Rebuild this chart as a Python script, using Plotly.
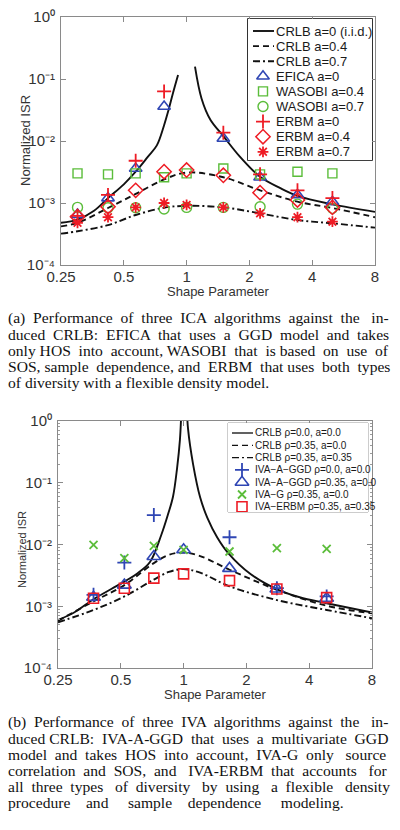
import plotly.graph_objects as go

FIG_W, FIG_H = 400, 830

# ---------------- (a) ICA data ----------------
shape_a = [0.3, 0.42, 0.57, 0.78, 1.0, 1.5, 2.25, 3.4, 5.0]
efica_a0 = [6.5e-4, 1.2e-3, 3.6e-3, 3.6e-2, None, 1.1e-2, 2.6e-3, 1.35e-3, 1.05e-3]
wasobi_a04 = [3.0e-3, 2.9e-3, 3.0e-3, 2.6e-3, 3.0e-3, 3.6e-3, 2.9e-3, 3.2e-3, 3.0e-3]
wasobi_a07 = [8.5e-4, 8.4e-4, 8.4e-4, 8.0e-4, 8.5e-4, 8.5e-4, 8.7e-4, 9.6e-4, 8.2e-4]
erbm_a0 = [6.2e-4, 1.35e-3, 4.8e-3, 6.3e-2, None, 1.36e-2, 2.9e-3, 1.6e-3, 1.2e-3]
erbm_a04 = [6.0e-4, 8.7e-4, 1.6e-3, 3.2e-3, 3.4e-3, 2.8e-3, 1.47e-3, 1.12e-3, 8.5e-4]
erbm_a07 = [4.8e-4, 5.9e-4, 8.5e-4, 1.0e-3, 9.3e-4, 8.5e-4, 6.8e-4, 5.9e-4, 5.0e-4]

crlb_a0_x = [0.25, 0.3, 0.36, 0.42, 0.5, 0.57, 0.65, 0.72, 0.78, 0.82, 0.86, 0.91,
             None, 1.097, 1.18, 1.3, 1.5, 1.8, 2.25, 2.8, 3.4, 5.0, 8.0]
crlb_a0_y = [4.8e-4, 5.4e-4, 7.5e-4, 1.2e-3, 2.0e-3, 3.2e-3, 5.5e-3, 8.5e-3, 1.8e-2, 3.2e-2, 5.9e-2, 1.16e-1,
             None, 1.58e-1, 4.8e-2, 2.2e-2, 1.2e-2, 5.6e-3, 2.65e-3, 1.75e-3, 1.3e-3, 9.5e-4, 7.2e-4]
crlb_a_x = [0.25, 0.3, 0.42, 0.57, 0.78, 1.0, 1.5, 2.25, 3.4, 5.0, 8.0]
crlb_a04_y = [4.2e-4, 4.8e-4, 8.3e-4, 1.4e-3, 2.4e-3, 3.1e-3, 2.6e-3, 1.6e-3, 1.05e-3, 8.3e-4, 5.9e-4]
crlb_a07_y = [3.2e-4, 3.5e-4, 4.4e-4, 6.4e-4, 8.4e-4, 9.0e-4, 8.5e-4, 6.8e-4, 5.3e-4, 4.7e-4, 4.0e-4]

# ---------------- (b) IVA data ----------------
shape_b = [0.37, 0.52, 0.72, 1.0, 1.66, 2.8, 4.85]
iva_aggd_r0 = [1.53e-3, 5.1e-3, 3.0e-2, None, 1.31e-2, 1.96e-3, 1.44e-3]
iva_aggd_r035 = [1.40e-3, 2.2e-3, 6.4e-3, 8.2e-3, 4.1e-3, 1.9e-3, 1.35e-3]
iva_g = [9.9e-3, 6.0e-3, 9.5e-3, 8.2e-3, 7.7e-3, 8.7e-3, 8.5e-3]
iva_erbm = [1.35e-3, 1.96e-3, 2.85e-3, 3.35e-3, 2.6e-3, 1.9e-3, 1.38e-3]

crlb_b0_x = [0.25, 0.3, 0.37, 0.45, 0.53, 0.6, 0.69, 0.78, 0.84, 0.89, 0.93, 0.96, 0.975,
             None, 1.04, 1.05, 1.11, 1.2, 1.3, 1.45, 1.64, 2.1, 2.79, 3.6, 4.85, 8.0]
crlb_b0_y = [6.0e-4, 8.0e-4, 1.3e-3, 1.9e-3, 2.6e-3, 3.4e-3, 5.2e-3, 1.4e-2, 3.0e-2, 6.0e-2, 0.17, 0.49, 1.4,
             None, 1.3, 0.75, 0.2, 5.8e-2, 2.7e-2, 1.3e-2, 7.2e-3, 3.3e-3, 1.9e-3, 1.4e-3, 1.12e-3, 7.9e-4]
crlb_b_x = [0.25, 0.37, 0.52, 0.72, 0.85, 1.0, 1.2, 1.66, 2.8, 4.85, 8.0]
crlb_b035_a0_y = [5.8e-4, 1.2e-3, 2.2e-3, 5.0e-3, 6.8e-3, 7.4e-3, 6.5e-3, 3.9e-3, 1.85e-3, 1.02e-3, 7.7e-4]
crlb_b035_a035_y = [5.5e-4, 8.7e-4, 1.44e-3, 2.7e-3, 3.6e-3, 4.0e-3, 3.5e-3, 2.1e-3, 1.26e-3, 8.7e-4, 6.4e-4]

# ---------------- text ----------------
x_ticks = [0.25, 0.5, 1, 2, 4, 8]
x_ticktext = ["0.25", "0.5", "1", "2", "4", "8"]
y_ticks = [1e-4, 1e-3, 1e-2, 1e-1, 1]
y_ticktext = ["10⁻⁴", "10⁻³", "10⁻²", "10⁻¹", "10⁰"]
x_title = "Shape Parameter"
y_title = "Normalized ISR"

caption_a = [
    "(a) Performance of three ICA algorithms against the in-",
    "duced CRLB: EFICA that uses a GGD model and takes",
    "only HOS into account, WASOBI that is based on use of",
    "SOS, sample dependence, and ERBM that uses both types",
    "of diversity with a flexible density model.",
]
caption_b = [
    "(b) Performance of three IVA algorithms against the in-",
    "duced CRLB: IVA-A-GGD that uses a multivariate GGD",
    "model and takes HOS into account, IVA-G only source",
    "correlation and SOS, and IVA-ERBM that accounts for",
    "all three types of diversity by using a flexible density",
    "procedure and sample dependence modeling.",
]

BLUE = "#2f46b4"
GREEN = "#5bbd3a"
RED = "#ee1c25"
BLACK = "#111111"
SANS = "Liberation Sans"
SERIF = "Liberation Serif"
AXC = "#333333"

DASH = "6px,4px"
DASHDOT = "7px,3px,2px,3px"

series_a = [
    ("CRLB a=0 (i.i.d.)", crlb_a0_x, crlb_a0_y, "line", dict(color=BLACK, width=1.9, dash="solid")),
    ("CRLB a=0.4", crlb_a_x, crlb_a04_y, "line", dict(color=BLACK, width=1.9, dash=DASH)),
    ("CRLB a=0.7", crlb_a_x, crlb_a07_y, "line", dict(color=BLACK, width=1.9, dash=DASHDOT)),
    ("EFICA a=0", shape_a, efica_a0, "marker", dict(symbol="triangle-up-open", size=11, color=BLUE, lw=1.6)),
    ("WASOBI a=0.4", shape_a, wasobi_a04, "marker", dict(symbol="square-open", size=9, color=GREEN, lw=1.4)),
    ("WASOBI a=0.7", shape_a, wasobi_a07, "marker", dict(symbol="circle-open", size=10, color=GREEN, lw=1.4)),
    ("ERBM a=0", shape_a, erbm_a0, "marker", dict(symbol="cross-thin-open", size=10, color=RED, lw=1.8)),
    ("ERBM a=0.4", shape_a, erbm_a04, "marker", dict(symbol="diamond-open", size=11, color=RED, lw=1.5)),
    ("ERBM a=0.7", shape_a, erbm_a07, "marker", dict(symbol="asterisk-open", size=9, color=RED, lw=1.8)),
]
series_b = [
    ("CRLB ρ=0.0, a=0.0", crlb_b0_x, crlb_b0_y, "line", dict(color=BLACK, width=1.9, dash="solid")),
    ("CRLB ρ=0.35, a=0.0", crlb_b_x, crlb_b035_a0_y, "line", dict(color=BLACK, width=1.9, dash=DASH)),
    ("CRLB ρ=0.35, a=0.35", crlb_b_x, crlb_b035_a035_y, "line", dict(color=BLACK, width=1.9, dash=DASHDOT)),
    ("IVA−A−GGD ρ=0.0, a=0.0", shape_b, iva_aggd_r0, "marker", dict(symbol="cross-thin-open", size=10, color=BLUE, lw=1.8)),
    ("IVA−A−GGD ρ=0.35, a=0.0", shape_b, iva_aggd_r035, "marker", dict(symbol="triangle-up-open", size=12, color=BLUE, lw=1.6)),
    ("IVA−G ρ=0.35, a=0.0", shape_b, iva_g, "marker", dict(symbol="x-thin-open", size=8, color=GREEN, lw=1.8)),
    ("IVA−ERBM ρ=0.35, a=0.35", shape_b, iva_erbm, "marker", dict(symbol="square-open", size=10, color=RED, lw=1.6)),
]

fig = go.Figure()


def add_series(series, xa, ya):
    for name, xs, ys, kind, st in series:
        if kind == "line":
            fig.add_trace(go.Scatter(
                x=xs, y=ys, name=name, mode="lines", xaxis=xa, yaxis=ya,
                line=dict(color=st["color"], width=st["width"], dash=st["dash"], shape="spline", smoothing=1.0),
                connectgaps=False, showlegend=False, hoverinfo="skip"))
        else:
            fig.add_trace(go.Scatter(
                x=xs, y=ys, name=name, mode="markers", xaxis=xa, yaxis=ya,
                marker=dict(symbol=st["symbol"], size=st["size"], color=st["color"],
                            line=dict(color=st["color"], width=st["lw"])),
                showlegend=False, hoverinfo="skip"))


add_series(series_a, "x", "y")
add_series(series_b, "x2", "y2")


def add_legend(series, xa, ya, row0, dy, x_line, x_mark, x_text, fsize, lscale):
    for i, (name, xs, ys, kind, st) in enumerate(series):
        yy = row0 + i * dy
        if kind == "line":
            fig.add_trace(go.Scatter(
                x=list(x_line), y=[yy, yy], mode="lines", xaxis=xa, yaxis=ya,
                line=dict(color=st["color"], width=st["width"] * lscale, dash=st["dash"]),
                showlegend=False, hoverinfo="skip"))
        else:
            fig.add_trace(go.Scatter(
                x=[x_mark], y=[yy], mode="markers", xaxis=xa, yaxis=ya,
                marker=dict(symbol=st["symbol"], size=st["size"], color=st["color"],
                            line=dict(color=st["color"], width=st["lw"])),
                showlegend=False, hoverinfo="skip"))
        fig.add_annotation(text=name, x=x_text, y=yy, xref=xa, yref=ya, xanchor="left", yanchor="middle",
                           showarrow=False, font=dict(family=SANS, size=fsize, color="#1a1a1a"),
                           borderpad=0, borderwidth=0)


LA = dict(l=248, r=372, t=19, b=160)
LB = dict(l=228, r=368, t=423, b=512)
add_legend(series_a, "x3", "y3", 12, 15.1, (5, 26), 15, 28, 13, 1.0)
add_legend(series_b, "x4", "y4", 10, 12.3, (4, 25), 14, 27, 10, 0.7)

for box, lc, lw in ((LA, "#000000", 1.6), (LB, "#9a9a9a", 1.0)):
    fig.add_shape(type="rect", xref="paper", yref="paper",
                  x0=box["l"] / FIG_W, x1=box["r"] / FIG_W,
                  y0=1 - box["b"] / FIG_H, y1=1 - box["t"] / FIG_H,
                  line=dict(color=lc, width=lw), fillcolor="white", layer="below")


def xaxis_cfg(l, r):
    return dict(domain=[l / FIG_W, r / FIG_W], type="log", range=[-0.60206, 0.90309],
                tickvals=x_ticks, ticktext=x_ticktext, ticks="inside", ticklen=5, tickcolor="#8a8a8a",
                mirror="allticks", showline=True, linecolor="#8a8a8a", linewidth=1,
                showgrid=False, zeroline=False, tickfont=dict(family=SANS, size=15, color=AXC),
                ticklabelstandoff=-2, fixedrange=True, automargin=False)


def yaxis_cfg(t, b, minor):
    cfg = dict(domain=[1 - b / FIG_H, 1 - t / FIG_H], type="log", range=[-4, 0],
               tickvals=y_ticks, ticktext=y_ticktext, ticks="inside", ticklen=5, tickcolor="#8a8a8a",
               mirror="allticks", showline=True, linecolor="#8a8a8a", linewidth=1,
               showgrid=False, zeroline=False, tickfont=dict(family=SANS, size=15, color=AXC),
               ticklabelstandoff=2, fixedrange=True, automargin=False)
    if minor:
        mv = [m * 10 ** e for e in range(-4, 0) for m in range(2, 10)]
        cfg["minor"] = dict(tickvals=mv, ticks="inside", ticklen=2, tickcolor="#9a9a9a", showgrid=False)
    return cfg


def overlay(box, horiz):
    if horiz:
        return dict(domain=[box["l"] / FIG_W, box["r"] / FIG_W], range=[0, box["r"] - box["l"]],
                    visible=False, fixedrange=True)
    return dict(domain=[1 - box["b"] / FIG_H, 1 - box["t"] / FIG_H], range=[box["b"] - box["t"], 0],
                visible=False, fixedrange=True)


fig.update_layout(
    width=FIG_W, height=FIG_H, margin=dict(l=0, r=0, t=0, b=0, autoexpand=False),
    paper_bgcolor="white", plot_bgcolor="white", showlegend=False,
    xaxis=dict(xaxis_cfg(61, 375), anchor="y"),
    yaxis=dict(yaxis_cfg(17, 265, False), anchor="x"),
    xaxis2=dict(xaxis_cfg(58, 372), anchor="y2"),
    yaxis2=dict(yaxis_cfg(421, 668, True), anchor="x2"),
    xaxis3=dict(overlay(LA, True), anchor="y3"),
    yaxis3=dict(overlay(LA, False), anchor="x3"),
    xaxis4=dict(overlay(LB, True), anchor="y4"),
    yaxis4=dict(overlay(LB, False), anchor="x4"),
)

# axis titles (placed as in the reference)
for (tx, ty, ang, fs, txt) in ((218, 291.5, 0, 13, x_title), (215, 694.5, 0, 13, x_title),
                               (25, 141, -90, 13, y_title), (22, 550, -90, 11, y_title)):
    fig.add_annotation(text=txt, x=tx / FIG_W, y=1 - ty / FIG_H, xref="paper", yref="paper",
                       xanchor="center", yanchor="middle", textangle=ang, showarrow=False,
                       font=dict(family=SANS, size=fs, color=AXC), borderpad=0, borderwidth=0)

# ---------------- captions (one text per line, padded with no-break spaces) ----------------
AFM = {" ": 250, "(": 333, ")": 333, ",": 250, "-": 333, ".": 250, ":": 278,
       "A": 722, "B": 667, "C": 667, "D": 722, "E": 611, "F": 556, "G": 722, "H": 722, "I": 333,
       "J": 389, "K": 722, "L": 611, "M": 889, "N": 722, "O": 722, "P": 556, "Q": 722, "R": 667,
       "S": 556, "T": 611, "U": 722, "V": 722, "W": 944, "X": 722, "Y": 722, "Z": 611,
       "a": 444, "b": 500, "c": 444, "d": 500, "e": 444, "f": 333, "g": 500, "h": 500, "i": 278,
       "j": 278, "k": 500, "l": 278, "m": 778, "n": 500, "o": 500, "p": 500, "q": 500, "r": 333,
       "s": 389, "t": 278, "u": 500, "v": 500, "w": 722, "x": 500, "y": 500, "z": 444}
CAP_LEFT = 8
NBSP = "\u00a0"


def justify(line, target, fs):
    words = line.split(" ")
    natural = sum(AFM.get(ch, 500) for ch in line) * fs / 1000
    sp = 250 * fs / 1000
    extra = int((target - natural) / sp)
    gaps = len(words) - 1
    out = words[0]
    for i, w in enumerate(words[1:]):
        n_extra = (extra * (i + 1)) // gaps - (extra * i) // gaps if extra > 0 else 0
        out += " " + NBSP * n_extra + w
    return out


def add_caption(lines, centers, rights, fs):
    for line, yc, xr in zip(lines, centers, rights):
        txt = justify(line, xr - CAP_LEFT, fs)
        fig.add_annotation(text=txt, x=CAP_LEFT / FIG_W, y=1 - yc / FIG_H, xref="paper", yref="paper",
                           xanchor="left", yanchor="middle", showarrow=False, align="left",
                           font=dict(family=SERIF, size=fs, color="#111111"),
                           borderpad=0, borderwidth=0)


add_caption(caption_a, [318, 334, 350, 366, 382], [392, 392, 392, 392, 270], 15.6)
add_caption(caption_b, [722, 738, 754, 770, 786, 802], [392, 392, 392, 392, 392, 345], 15.6)

fig.write_html("out.html", config={"displayModeBar": False, "staticPlot": True},
               post_script="document.body.style.margin='0px';document.body.style.overflow='hidden';")
